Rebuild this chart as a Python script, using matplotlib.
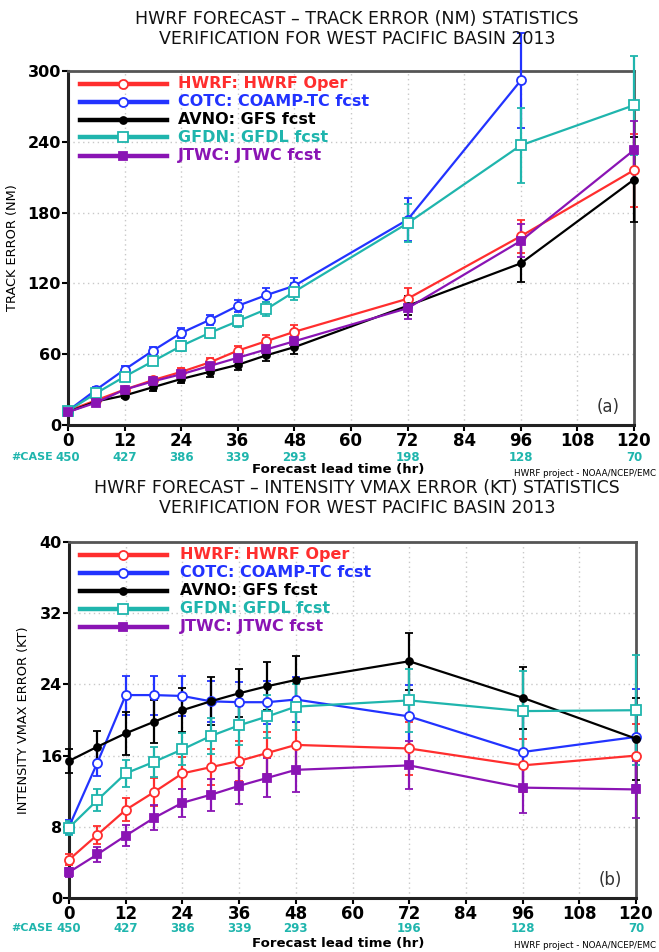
import matplotlib
matplotlib.use("Agg")
import matplotlib.pyplot as plt
from matplotlib.lines import Line2D
import numpy as np

plt.rcParams['font.family'] = ['DejaVu Sans']

hours = [0, 6, 12, 18, 24, 30, 36, 42, 48, 72, 96, 120]
case_hours = [0, 12, 24, 36, 48, 72, 96, 120]
cases_a = ['450', '427', '386', '339', '293', '198', '128', '70']
cases_b = ['450', '427', '386', '339', '293', '196', '128', '70']

models = ['HWRF', 'COTC', 'AVNO', 'GFDN', 'JTWC']
labels = ['HWRF: HWRF Oper', 'COTC: COAMP-TC fcst', 'AVNO: GFS fcst',
          'GFDN: GFDL fcst', 'JTWC: JTWC fcst']

# Track error (NM)
track = {
    'HWRF': [12, 21, 30, 38, 45, 53, 63, 71, 79, 107, 160, 216],
    'COTC': [12, 30, 47, 63, 78, 89, 101, 110, 118, 174, 292, np.nan],
    'AVNO': [11, 20, 25, 32, 39, 45, 51, 59, 66, 101, 137, 208],
    'GFDN': [12, 27, 41, 54, 67, 78, 88, 98, 113, 171, 237, 271],
    'JTWC': [11, 19, 30, 37, 43, 50, 57, 64, 71, 99, 156, 233],
}
track_err = {
    'HWRF': [1, 2, 2, 3, 3, 4, 4, 5, 6, 9, 14, 31],
    'COTC': [1, 2, 3, 3, 4, 4, 5, 6, 7, 18, 40, np.nan],
    'AVNO': [1, 2, 2, 3, 3, 4, 4, 5, 6, 8, 16, 36],
    'GFDN': [1, 2, 3, 3, 4, 4, 5, 6, 7, 16, 32, 42],
    'JTWC': [1, 2, 2, 3, 3, 3, 4, 5, 5, 9, 14, 25],
}
# Intensity VMAX error (KT)
vmax = {
    'HWRF': [4.3, 7.1, 9.9, 11.9, 14.0, 14.7, 15.4, 16.3, 17.2, 16.8, 14.9, 16.0],
    'COTC': [8.0, 15.2, 22.8, 22.8, 22.7, 22.1, 22.0, 22.0, 22.3, 20.4, 16.4, 18.1],
    'AVNO': [15.4, 17.0, 18.5, 19.8, 21.1, 22.1, 23.0, 23.8, 24.5, 26.6, 22.5, 17.9],
    'GFDN': [7.9, 11.0, 14.0, 15.3, 16.7, 18.2, 19.4, 20.4, 21.5, 22.2, 21.0, 21.1],
    'JTWC': [2.9, 4.9, 7.0, 9.0, 10.7, 11.6, 12.6, 13.5, 14.4, 14.9, 12.4, 12.2],
}
vmax_err = {
    'HWRF': [0.6, 1.0, 1.3, 1.6, 1.8, 2.0, 2.2, 2.4, 2.6, 3.0, 3.0, 3.5],
    'COTC': [0.8, 1.5, 2.2, 2.2, 2.2, 2.3, 2.3, 2.4, 2.5, 3.5, 4.0, 5.4],
    'AVNO': [1.3, 1.8, 2.4, 2.4, 2.5, 2.7, 2.7, 2.7, 2.7, 3.2, 3.5, 4.6],
    'GFDN': [0.8, 1.2, 1.5, 1.7, 1.8, 2.0, 2.2, 2.4, 2.6, 3.5, 4.5, 6.2],
    'JTWC': [0.5, 0.8, 1.2, 1.4, 1.6, 1.8, 2.0, 2.2, 2.5, 2.7, 2.8, 3.2],
}

colors = {'HWRF': '#ff2e2e', 'COTC': '#2233ff', 'AVNO': '#000000',
          'GFDN': '#1fb5ad', 'JTWC': '#8a14b4'}
markers = {'HWRF': 'o', 'COTC': 'o', 'AVNO': 'o', 'GFDN': 's', 'JTWC': 's'}
mfill = {'HWRF': 'none', 'COTC': 'none', 'AVNO': 'full', 'GFDN': 'none', 'JTWC': 'full'}
msize = {'HWRF': 6.5, 'COTC': 6.5, 'AVNO': 5, 'GFDN': 6.5, 'JTWC': 6}
case_color = '#1fb5ad'

W, H = 659, 952
fig = plt.figure(figsize=(W / 100, H / 100), dpi=100)


def fx(px):
    return px / W


def fy(py):
    return 1 - py / H


def make_panel(rect_px, data, err, ymax, yticks, ylabel, ylabel_x, titles, title_y,
               legend_px, tag, cases, case_y, xlabel_y, credit_y):
    l, t, r, b = rect_px
    ax = fig.add_axes([fx(l), fy(b), fx(r) - fx(l), fy(t) - fy(b)])
    for m in models:
        c = colors[m]
        mfc = 'white' if mfill[m] == 'none' else c
        ax.errorbar(hours, data[m], yerr=err[m], color=c, lw=1.6,
                    marker=markers[m], ms=msize[m], mfc=mfc,
                    mec=c, mew=1.3, capsize=3.2, capthick=1.6, elinewidth=1.6,
                    clip_on=False, zorder=3)
    ax.set_xlim(0, 120)
    ax.set_ylim(0, ymax)
    ax.set_xticks(range(0, 121, 12))
    ax.set_yticks(yticks)
    ax.tick_params(axis='both', labelsize=12, width=1.5, length=4, pad=1,
                   direction='out')
    ax.tick_params(axis='y', labelsize=11.5)
    for lab in ax.get_xticklabels() + ax.get_yticklabels():
        lab.set_fontweight('bold')
    ax.grid(True, color='#c8c8c8', linestyle=(0, (1, 2.5)), lw=1)
    ax.set_axisbelow(True)
    for s in ['left', 'bottom']:
        ax.spines[s].set_linewidth(2.2)
        ax.spines[s].set_color('#222222')
    for s in ['top', 'right']:
        ax.spines[s].set_linewidth(2.0)
        ax.spines[s].set_color('#555555')
    ax.set_ylabel(ylabel, fontsize=9.3)
    ax.yaxis.set_label_coords((ylabel_x - l) / (r - l), 0.5)
    # titles
    for i, tt in enumerate(titles):
        fig.text(fx(357), fy(title_y[i]), tt, ha='center', va='center',
                 fontsize=12.5, color='#111111')
    # legend
    lx0, lx1, tx, ly0, dy = legend_px
    for i, m in enumerate(models):
        yy = ly0 + i * dy
        c = colors[m]
        mfc = 'white' if mfill[m] == 'none' else c
        fig.add_artist(Line2D([fx(lx0), fx(lx1)], [fy(yy), fy(yy)], color=c,
                              lw=3.2, transform=fig.transFigure))
        fig.add_artist(Line2D([fx((lx0 + lx1) / 2)], [fy(yy)], color=c,
                              marker=markers[m], ms=msize[m], mfc=mfc, mec=c,
                              mew=1.3, transform=fig.transFigure))
        fig.text(fx(tx), fy(yy), labels[i], color=c, fontsize=11.5,
                 fontweight='bold', ha='left', va='center')
    ax.text(0.975, 0.05, tag, transform=ax.transAxes, ha='right', va='center',
            fontsize=12, color='#333333')
    # cases
    fig.text(fx(53), fy(case_y), '#CASE', color=case_color, fontsize=8,
             fontweight='bold', ha='right', va='center')
    for h, cs in zip(case_hours, cases):
        xpx = l + (r - l) * h / 120.0
        fig.text(fx(xpx), fy(case_y), cs, color=case_color, fontsize=8.5,
                 fontweight='bold', ha='center', va='center')
    fig.text(fx(338), fy(xlabel_y), 'Forecast lead time (hr)', fontsize=9.5,
             fontweight='bold', ha='center', va='center')
    fig.text(fx(656), fy(credit_y), 'HWRF project - NOAA/NCEP/EMC', fontsize=6.3,
             ha='right', va='center')
    return ax


make_panel((68, 71, 634, 425), track, track_err, 300, [0, 60, 120, 180, 240, 300],
           'TRACK ERROR (NM)', 19,
           ['HWRF FORECAST \u2013 TRACK ERROR (NM) STATISTICS',
            'VERIFICATION FOR WEST PACIFIC BASIN 2013'], [19, 39],
           (80, 167, 178, 83.5, 18), '(a)', cases_a, 457, 470, 473)

make_panel((69, 542, 636, 898), vmax, vmax_err, 40, [0, 8, 16, 24, 32, 40],
           'INTENSITY VMAX ERROR (KT)', 30,
           ['HWRF FORECAST \u2013 INTENSITY VMAX ERROR (KT) STATISTICS',
            'VERIFICATION FOR WEST PACIFIC BASIN 2013'], [488, 508],
           (80, 167, 180, 554.5, 18), '(b)', cases_b, 928, 943, 946)

fig.savefig('out.png', dpi=100)
